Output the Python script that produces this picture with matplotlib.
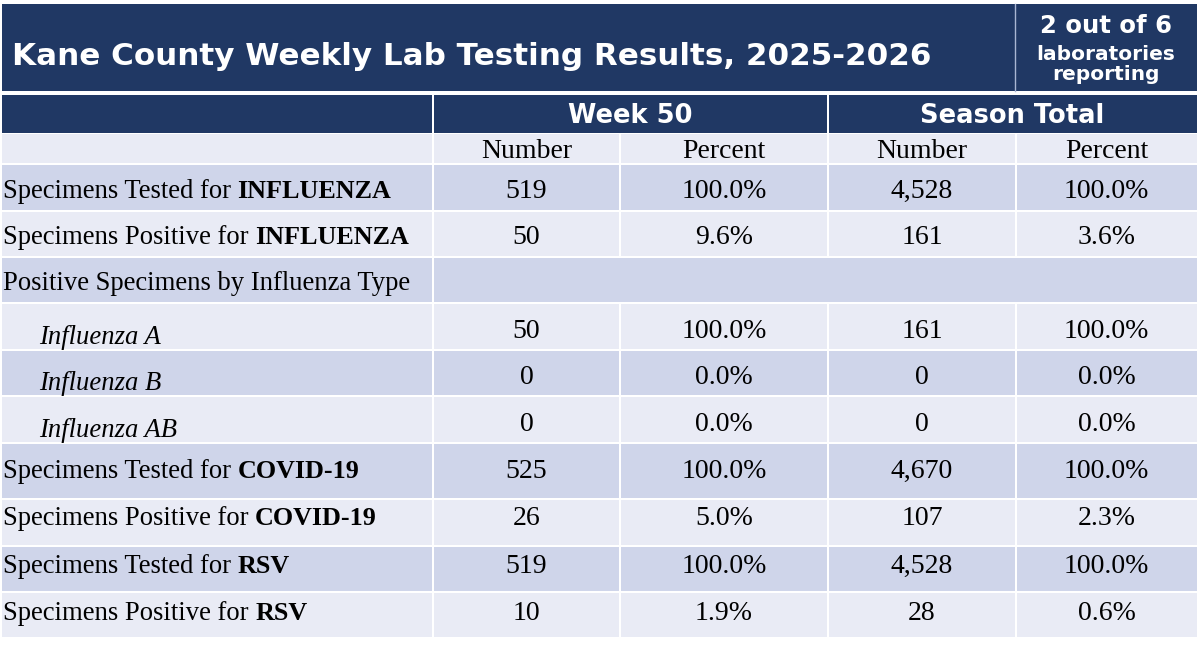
import matplotlib
matplotlib.use("Agg")
import matplotlib.pyplot as plt
from matplotlib.patches import Rectangle

# ==========================================
# data
# ==========================================
title = "Kane County Weekly Lab Testing Results, 2025-2026"
labs_note = ["2 out of 6", "laboratories", "reporting"]
group_headers = ["Week 50", "Season Total"]
sub_headers = ["Number", "Percent", "Number", "Percent"]

row_plain = ["Specimens Tested for ", "Specimens Positive for ",
             "Positive Specimens by Influenza Type",
             "Influenza A", "Influenza B", "Influenza AB",
             "Specimens Tested for ", "Specimens Positive for ",
             "Specimens Tested for ", "Specimens Positive for "]
row_bold = ["INFLUENZA", "INFLUENZA", "", "", "", "",
            "COVID-19", "COVID-19", "RSV", "RSV"]
row_italic = [False, False, False, True, True, True, False, False, False, False]

week_number = [519, 50, None, 50, 0, 0, 525, 26, 519, 10]
week_percent = [100.0, 9.6, None, 100.0, 0.0, 0.0, 100.0, 5.0, 100.0, 1.9]
season_number = [4528, 161, None, 161, 0, 0, 4670, 107, 4528, 28]
season_percent = [100.0, 3.6, None, 100.0, 0.0, 0.0, 100.0, 2.3, 100.0, 0.6]

# ==========================================
# layout (pixels)
# ==========================================
W, H = 1200, 647
NAVY = "#203864"
DARK_ROW = "#cfd5ea"
LIGHT_ROW = "#e9ebf5"
SERIF = "Liberation Serif"
SANS = "DejaVu Sans"
LABEL_SIZE = 19.2
BOLD_SIZE = 18.8
NUM_SIZE = 20

x_left, x_right = 2, 1197
col_x = [x_left, 433, 620, 828, 1016, x_right]
row_y = [164, 211, 257, 303, 350, 396, 443, 499, 546, 592, 638]
baselines = [198, 244, 290, 338, 384, 431, 478, 525, 573, 620]
italic_shift = 6
gap = 1.0

fig = plt.figure(figsize=(12, 6.47), dpi=100)
ax = fig.add_axes([0, 0, 1, 1])
ax.set_xlim(0, W)
ax.set_ylim(H, 0)
ax.axis("off")


def cell(x0, y0, x1, y1, color):
    ax.add_patch(Rectangle((x0 + gap, y0 + gap), x1 - x0 - 2 * gap, y1 - y0 - 2 * gap,
                           facecolor=color, edgecolor="none"))


# title band
ax.add_patch(Rectangle((x_left, 4), x_right - x_left, 87, facecolor=NAVY, edgecolor="none"))
ax.plot([1015, 1015], [4, 91], color="#a9b6d3", lw=1)
ax.text(12, 65, title, fontsize=22.3, fontweight="bold", family=SANS, color="white", va="baseline")
cx = (1015 + x_right) / 2
ax.text(cx, 33, labs_note[0], fontsize=17.5, fontweight="bold", family=SANS, color="white",
        ha="center", va="baseline")
ax.text(cx, 60, labs_note[1], fontsize=14.5, fontweight="bold", family=SANS, color="white",
        ha="center", va="baseline")
ax.text(cx, 80, labs_note[2], fontsize=14.5, fontweight="bold", family=SANS, color="white",
        ha="center", va="baseline")

# group header row
cell(x_left - gap, 94, col_x[1], 133 + gap, NAVY)
cell(col_x[1], 94, col_x[3], 133 + gap, NAVY)
cell(col_x[3], 94, x_right + gap, 133 + gap, NAVY)
for i, name in enumerate(group_headers):
    gx = (col_x[1 + 2 * i] + col_x[3 + 2 * i]) / 2
    ax.text(gx, 123, name, fontsize=18.5, fontweight="bold", family=SANS, color="white",
            ha="center", va="baseline")

# sub header row
for c in range(5):
    cell(col_x[c] - (gap if c == 0 else 0), 133, col_x[c + 1] + (gap if c == 4 else 0), 164, LIGHT_ROW)
for c, name in enumerate(sub_headers):
    ax.text((col_x[c + 1] + col_x[c + 2]) / 2, 158, name, fontsize=NUM_SIZE, family=SERIF,
            color="black", ha="center", va="baseline")


def fmt_num(v):
    return "" if v is None else f"{v:,}"


def fmt_pct(v):
    return "" if v is None else f"{v:.1f}%"


fig.canvas.draw()
renderer = fig.canvas.get_renderer()

for r in range(len(row_plain)):
    y0, y1 = row_y[r], row_y[r + 1]
    color = DARK_ROW if r % 2 == 0 else LIGHT_ROW
    if week_number[r] is None:
        # merged cell across the value columns
        cell(col_x[0] - gap, y0, col_x[1], y1, color)
        cell(col_x[1], y0, col_x[5] + gap, y1, color)
    else:
        for c in range(5):
            cell(col_x[c] - (gap if c == 0 else 0), y0, col_x[c + 1] + (gap if c == 4 else 0), y1, color)

    b = baselines[r]
    if row_italic[r]:
        ax.text(39, b + italic_shift, row_plain[r], fontsize=LABEL_SIZE, family=SERIF, style="italic",
                color="black", va="baseline")
    else:
        t = ax.text(3, b, row_plain[r], fontsize=LABEL_SIZE, family=SERIF, color="black", va="baseline")
        if row_bold[r]:
            bb = t.get_window_extent(renderer)
            ax.text(3 + bb.width, b, row_bold[r], fontsize=BOLD_SIZE, family=SERIF, fontweight="bold",
                    color="black", va="baseline")

    vals = [fmt_num(week_number[r]), fmt_pct(week_percent[r]),
            fmt_num(season_number[r]), fmt_pct(season_percent[r])]
    for c, v in enumerate(vals):
        ax.text((col_x[c + 1] + col_x[c + 2]) / 2, b, v, fontsize=NUM_SIZE, family=SERIF,
                color="black", ha="center", va="baseline")

fig.savefig("out.png", dpi=100, facecolor="white")
